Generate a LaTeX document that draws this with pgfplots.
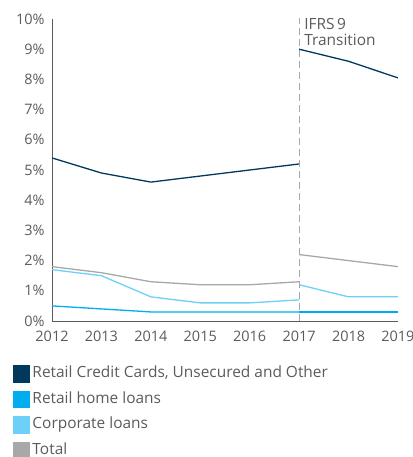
\documentclass[border=0pt]{standalone}
\usepackage{pgfplots}
\pgfplotsset{compat=1.18}
\usepackage{fontspec}
\setmainfont{Open Sans}
\definecolor{navy}{HTML}{00395D}
\definecolor{cyanc}{HTML}{00AEEF}
\definecolor{lightb}{HTML}{6DD0F7}
\definecolor{greyc}{HTML}{A7A8AA}
\definecolor{txt}{HTML}{5A5B5D}
\newcommand{\lbl}{\fontsize{15.5}{17}\selectfont}
\newcommand{\tkl}{\fontsize{14.5}{16}\selectfont}

\begin{document}
\begin{tikzpicture}
\path[use as bounding box] (-52bp,-136bp) rectangle (361bp,321bp);
\begin{axis}[scale only axis,width=346bp,height=302bp,at={(0,0)},anchor=south west,
  xmin=2012,xmax=2019,ymin=0,ymax=10,
  axis lines=left,axis line style={txt,line width=0.8bp,-},
  xtick={2012,...,2019},ytick={0,1,...,10},
  major tick length=0pt,
  x tick label style={/pgf/number format/1000 sep=},
  yticklabel={\pgfmathprintnumber{\tick}\%},
  tick label style={font=\tkl,text=txt},
  /pgf/number format/assume math mode=true,
  xticklabel style={yshift=-7bp},
  yticklabel style={xshift=-4bp},
  every axis plot/.append style={line width=1.3bp},
  legend style={at={(0,0)},anchor=north west,xshift=-39bp,yshift=-44bp,
    draw=none,fill=none,inner sep=0pt,row sep=8.2bp,
    font=\lbl,text=txt,
    nodes={inner sep=0pt,inner xsep=2bp,text height=12bp,text depth=4bp}},
  legend cell align=left,
  legend image code/.code={\fill[#1] (0bp,-8bp) rectangle (16bp,8bp);},
]
\addplot[navy] coordinates {(2012,5.4) (2013,4.9) (2014,4.6) (2015,4.8) (2016,5.0) (2017,5.2)};
\addplot[cyanc] coordinates {(2012,0.5) (2013,0.4) (2014,0.3) (2015,0.3) (2016,0.3) (2017,0.3)};
\addplot[lightb] coordinates {(2012,1.7) (2013,1.5) (2014,0.8) (2015,0.6) (2016,0.6) (2017,0.7)};
\addplot[greyc] coordinates {(2012,1.8) (2013,1.6) (2014,1.3) (2015,1.2) (2016,1.2) (2017,1.3)};
\legend{{Retail Credit Cards, Unsecured and Other},{Retail home loans},{Corporate loans},{Total}}
\addplot[navy,forget plot] coordinates {(2017,9.0) (2018,8.6) (2019,8.05)};
\addplot[cyanc,forget plot] coordinates {(2017,0.3) (2018,0.3) (2019,0.3)};
\addplot[lightb,forget plot] coordinates {(2017,1.2) (2018,0.8) (2019,0.8)};
\addplot[greyc,forget plot] coordinates {(2017,2.2) (2018,2.0) (2019,1.8)};
\addplot[greyc,line width=0.8bp,dash pattern=on 7bp off 4bp,forget plot] coordinates {(2017,0) (2017,10.1)};
\node[anchor=north west,align=left,font=\lbl,text=txt,inner sep=0pt]
  at ([xshift=5bp,yshift=1bp]axis cs:2017,10) {IFRS\,9\\[-1bp]Transition};
\end{axis}
\end{tikzpicture}
\end{document}
